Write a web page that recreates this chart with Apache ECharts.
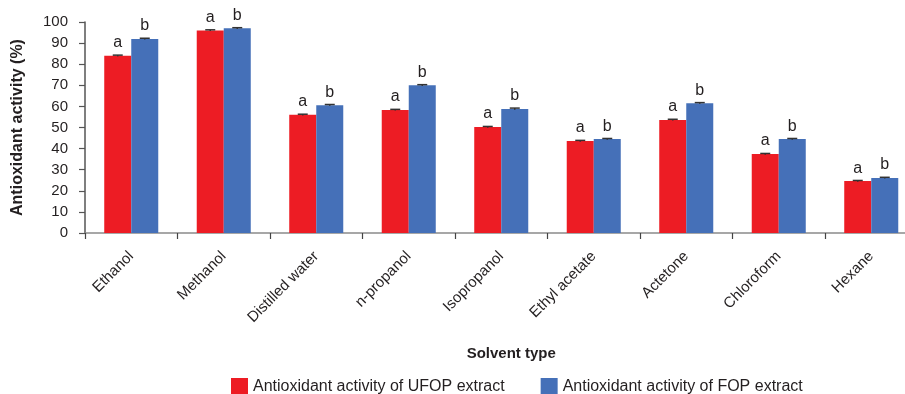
<!DOCTYPE html>
<html>
<head>
<meta charset="utf-8">
<script src="https://cdn.jsdelivr.net/npm/echarts@6/dist/echarts.min.js"></script>
<style>
  html, body { margin: 0; padding: 0; background: #fff; }
  #chart { width: 905px; height: 394px; }
</style>
</head>
<body>
<div id="chart"></div>
<script>
// Solvents tested
const solvents = ['Ethanol', 'Methanol', 'Distilled water', 'n-propanol', 'Isopropanol',
  'Ethyl acetate', 'Actetone', 'Chloroform', 'Hexane'];

// Antioxidant activity (%) per solvent
const ufopValues = [84, 96, 56, 58.3, 50.2, 43.6, 53.6, 37.4, 24.6];
const fopValues  = [92, 97, 60.6, 70, 58.8, 44.5, 61.5, 44.5, 26.1];

// Standard deviations (error bars)
const ufopErr = [0.3, 0.3, 0.3, 0.3, 0.3, 0.3, 0.3, 0.3, 0.3];
const fopErr  = [0.3, 0.3, 0.3, 0.3, 0.4, 0.3, 0.3, 0.3, 0.3];

// Significance letters
const ufopLetter = 'a';
const fopLetter = 'b';

const seriesNames = ['Antioxidant activity of UFOP extract', 'Antioxidant activity of FOP extract'];
const yTicks = [0, 10, 20, 30, 40, 50, 60, 70, 80, 90, 100];

const RED = '#ED1C24';
const BLUE = '#4570B8';
const INK = '#231F20';
const CAT_GAP = 0.416;

const chart = echarts.init(document.getElementById('chart'), null, { renderer: 'canvas' });

function errorSeries(values, errs, side) {
  return {
    type: 'custom',
    silent: true,
    z: 5,
    data: values.map((v, i) => [i, v, errs[i]]),
    renderItem: function (params, api) {
      const idx = api.value(0);
      const band = api.size([1, 0])[0];
      const barW = band * (1 - CAT_GAP) / 2;
      const base = api.coord([idx, api.value(1)]);
      const top = api.coord([idx, api.value(1) + api.value(2)]);
      const low = api.coord([idx, api.value(1) - api.value(2)]);
      const x = base[0] + side * barW / 2;
      const cap = 5;
      const style = { stroke: '#333', lineWidth: 1.5 };
      return {
        type: 'group',
        children: [
          { type: 'line', shape: { x1: x, y1: low[1], x2: x, y2: top[1] }, style: style },
          { type: 'line', shape: { x1: x - cap, y1: top[1], x2: x + cap, y2: top[1] }, style: style }
        ]
      };
    }
  };
}

const option = {
  animation: false,
  textStyle: { fontFamily: 'Liberation Sans, Arial, sans-serif', color: INK },
  grid: { left: 85, top: 22, width: 832.5, bottom: 161, containLabel: false, outerBoundsMode: 'none' },
  legend: {
    left: 226, top: 373,
    itemWidth: 17, itemHeight: 17, itemGap: 36,
    icon: 'rect',
    textStyle: { fontSize: 16, color: INK },
    data: seriesNames
  },
  xAxis: {
    type: 'category',
    data: solvents,
    name: 'Solvent type',
    nameLocation: 'middle',
    nameGap: 113,
    nameTextStyle: { fontSize: 15, fontWeight: 'bold', color: INK, padding: [0, 0, 0, 20] },
    axisLine: { lineStyle: { color: '#8a8a8a', width: 1.5 } },
    axisTick: { show: true, length: 6, lineStyle: { color: '#444', width: 1.2 } },
    axisLabel: { rotate: 45, fontSize: 15, color: INK, margin: 21, interval: 0 }
  },
  yAxis: {
    type: 'value',
    min: 0, max: 100, interval: 10,
    name: 'Antioxidant activity (%)',
    nameLocation: 'middle',
    nameGap: 59,
    nameTextStyle: { fontSize: 16, fontWeight: 'bold', color: INK },
    axisLine: { show: true, lineStyle: { color: '#555', width: 1.5 } },
    axisTick: { show: true, length: 6, lineStyle: { color: '#555', width: 1.2 } },
    axisLabel: {
      fontSize: 15, color: INK, margin: 17,
      formatter: v => (yTicks.indexOf(v) >= 0 ? String(v) : '')
    },
    splitLine: { show: false }
  },
  series: [
    {
      name: seriesNames[0],
      type: 'bar',
      data: ufopValues,
      barGap: 0,
      barCategoryGap: (CAT_GAP * 100) + '%',
      itemStyle: { color: RED },
      label: { show: true, position: 'top', distance: 5, fontSize: 16, color: INK, formatter: () => ufopLetter }
    },
    {
      name: seriesNames[1],
      type: 'bar',
      data: fopValues,
      barGap: 0,
      barCategoryGap: (CAT_GAP * 100) + '%',
      itemStyle: { color: BLUE },
      label: { show: true, position: 'top', distance: 5, fontSize: 16, color: INK, formatter: () => fopLetter }
    },
    errorSeries(ufopValues, ufopErr, -1),
    errorSeries(fopValues, fopErr, 1)
  ]
};

chart.setOption(option);
</script>
</body>
</html>
